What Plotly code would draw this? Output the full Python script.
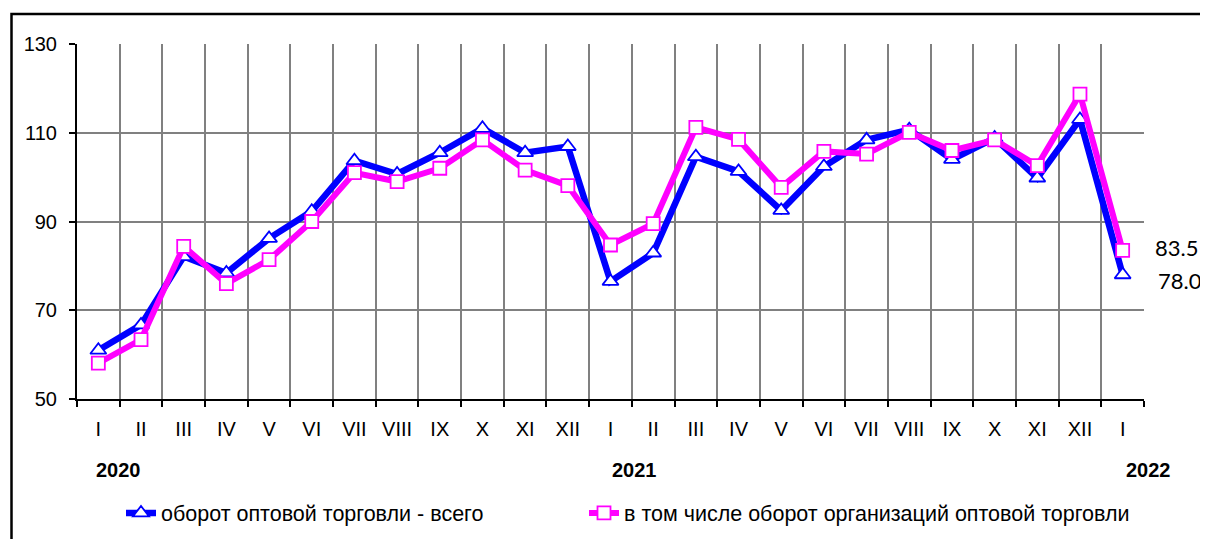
import plotly.graph_objects as go

# ---- data ----
months = ["I", "II", "III", "IV", "V", "VI", "VII", "VIII", "IX", "X", "XI", "XII",
          "I", "II", "III", "IV", "V", "VI", "VII", "VIII", "IX", "X", "XI", "XII",
          "I"]
years = ["2020", "2021", "2022"]
total_turnover = [61.0, 66.7, 82.1, 78.4, 86.2, 92.3, 103.7, 100.7, 105.5, 111.0, 105.5, 106.9,
                  76.5, 82.9, 104.6, 101.3, 92.5, 102.4, 108.4, 110.7, 104.0, 108.8, 99.8, 113.0,
                  78.0]
org_turnover = [58.1, 63.4, 84.4, 76.0, 81.4, 90.0, 101.0, 99.0, 102.0, 108.4, 101.6, 98.1,
                84.7, 89.5, 111.2, 108.5, 97.7, 105.8, 105.2, 110.1, 106.0, 108.4, 102.6, 118.7,
                83.5]
series_names = ["оборот оптовой торговли - всего",
                "в том числе оборот организаций оптовой торговли"]

# page is rendered with an 8px body margin
OFF = 8
W, H = 1200, 531
L, T = 77 - OFF, 44 - OFF
R = W - (1144 - OFF)
B = H - (399 - OFF)
pw, ph = W - L - R, H - T - B

def px(x_page):
    return (x_page - OFF - L) / pw

def py(y_page):
    return (H - B - (y_page - OFF)) / ph

x = list(range(len(months)))

fig = go.Figure()
fig.add_trace(go.Scatter(
    x=x, y=total_turnover, name=series_names[0], mode="lines+markers",
    line=dict(color="#0000FF", width=6.5),
    marker=dict(symbol="triangle-up", size=14, color="white",
                line=dict(color="#0000FF", width=1.8)),
    legend="legend",
))
fig.add_trace(go.Scatter(
    x=x, y=org_turnover, name=series_names[1], mode="lines+markers",
    line=dict(color="#FF00FF", width=6),
    marker=dict(symbol="square", size=13, color="white",
                line=dict(color="#FF00FF", width=1.8)),
    legend="legend2",
))

# end-point value labels
fig.add_annotation(x=x[-1], y=org_turnover[-1], text=f"{org_turnover[-1]:.1f}",
                   xref="x", yref="y", xanchor="left", yanchor="middle",
                   xshift=30, yshift=3, showarrow=False,
                   font=dict(family="Lato, Open Sans, sans-serif", size=22, color="black"))
fig.add_annotation(x=x[-1], y=total_turnover[-1], text=f"{total_turnover[-1]:.1f}",
                   xref="x", yref="y", xanchor="left", yanchor="middle",
                   xshift=33, yshift=-6, showarrow=False,
                   font=dict(family="Lato, Open Sans, sans-serif", size=22, color="black"))

# year labels
for txt, cx in zip(years, [118, 634, 1148]):
    fig.add_annotation(x=px(cx), y=py(470), xref="paper", yref="paper", text=f"<b>{txt}</b>",
                       showarrow=False, xanchor="center", yanchor="middle",
                       font=dict(family="Liberation Sans, Arial, sans-serif", size=20, color="black"))

# outer frame
fig.add_shape(type="rect", xref="paper", yref="paper",
              x0=px(11.5), x1=px(1215), y0=py(550), y1=py(14),
              line=dict(color="black", width=2.5), fillcolor="rgba(0,0,0,0)", layer="below")

legend_common = dict(orientation="h", yanchor="middle", xanchor="left",
                     font=dict(size=21.5), bgcolor="rgba(0,0,0,0)", itemwidth=30)
fig.update_layout(
    width=W, height=H,
    margin=dict(l=L, r=R, t=T, b=B, autoexpand=False),
    paper_bgcolor="white", plot_bgcolor="white",
    font=dict(family="Liberation Sans, Arial, sans-serif", size=20, color="black"),
    showlegend=True,
    legend=dict(x=px(121), y=py(513), **legend_common),
    legend2=dict(x=px(584), y=py(513), **legend_common),
)
fig.update_xaxes(
    range=[-0.5, len(months) - 0.5],
    tickmode="array", tickvals=x, ticktext=months,
    ticks="", showgrid=False, ticklabelstandoff=11,
    showline=True, linecolor="black", linewidth=2,
    tickfont=dict(size=20),
    minor=dict(tickmode="array", tickvals=[i - 0.5 for i in range(len(months) + 1)],
               ticks="outside", ticklen=6, tickwidth=2, tickcolor="black",
               showgrid=True, gridcolor="#808080", gridwidth=2),
    zeroline=False,
)
fig.update_yaxes(
    range=[50, 130], tickmode="linear", tick0=50, dtick=20,
    ticks="outside", ticklen=6, tickwidth=2, tickcolor="black",
    ticklabelstandoff=8,
    showgrid=True, gridcolor="#808080", gridwidth=2,
    showline=True, linecolor="black", linewidth=2,
    tickfont=dict(size=20), zeroline=False,
)

fig.write_html("out.html")
